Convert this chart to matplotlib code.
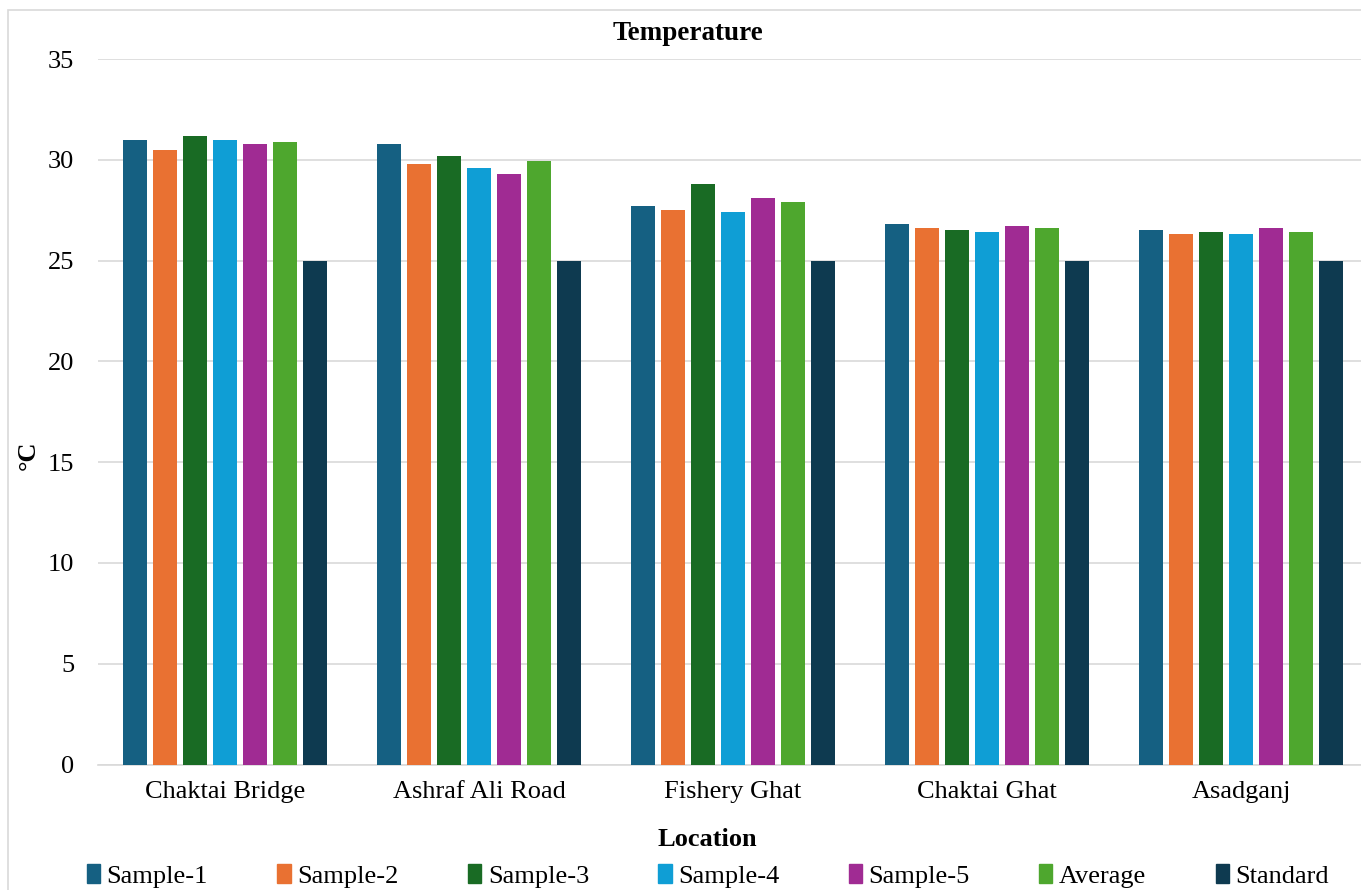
import numpy as np
import matplotlib
matplotlib.use('Agg')
import matplotlib.pyplot as plt
import matplotlib.patches as mpatches

# Temperature readings per sampling location (deg C)
locations = ['Chaktai Bridge', 'Ashraf Ali Road', 'Fishery Ghat', 'Chaktai Ghat', 'Asadganj']
sample1 = [31.0, 30.8, 27.7, 26.8, 26.5]
sample2 = [30.5, 29.8, 27.5, 26.6, 26.3]
sample3 = [31.2, 30.2, 28.8, 26.5, 26.4]
sample4 = [31.0, 29.6, 27.4, 26.4, 26.3]
sample5 = [30.8, 29.3, 28.1, 26.7, 26.6]
average = [30.9, 29.94, 27.9, 26.6, 26.42]
standard = [25, 25, 25, 25, 25]

series = [sample1, sample2, sample3, sample4, sample5, average, standard]
names = ['Sample-1', 'Sample-2', 'Sample-3', 'Sample-4', 'Sample-5', 'Average', 'Standard']
colors = ['#156082', '#E97132', '#196B24', '#0F9ED5', '#A02B93', '#4EA72E', '#0E3A50']

plt.rcParams['font.family'] = ['Liberation Serif', 'DejaVu Serif']
fsize = 19

fig = plt.figure(figsize=(13.61, 8.90), dpi=100)
ax = fig.add_axes([98 / 1361, 1 - 764.5 / 890, 1270 / 1361, 705.5 / 890])

x = np.arange(len(locations))
step = 0.118
width = 0.093
for i, (vals, name, c) in enumerate(zip(series, names, colors)):
    ax.bar(x + (i - 3) * step, vals, width, color=c, label=name, zorder=3)

ax.set_xlim(-0.5, len(locations) - 0.5)
ax.set_ylim(0, 35)
ax.set_yticks(np.arange(0, 36, 5))
ax.set_xticks(x)
ax.set_xticklabels(locations)
ax.tick_params(axis='both', length=0, labelsize=fsize, colors='#000000')
ax.tick_params(axis='x', pad=12)
ax.tick_params(axis='y', pad=17)
ax.grid(axis='y', color='#D9D9D9', linewidth=1.2, zorder=0)
for s in ['top', 'right', 'left']:
    ax.spines[s].set_visible(False)
ax.spines['bottom'].set_color('#D9D9D9')
ax.spines['bottom'].set_linewidth(1.2)

fig.text(688 / 1361, 1 - 33 / 890, 'Temperature', ha='center', va='center',
         fontsize=19.5, fontweight='bold')
fig.text(28 / 1361, 1 - 455 / 890, '\u00b0C', ha='center', va='center',
         rotation=90, fontsize=fsize, fontweight='bold')
fig.text(707 / 1361, 1 - 840 / 890, 'Location', ha='center', va='center',
         fontsize=fsize, fontweight='bold')

handles = [mpatches.Patch(color=c) for c in colors]
fig.legend(handles, names, loc='center', bbox_to_anchor=(708 / 1361, 1 - 876 / 890),
           ncol=7, frameon=False, fontsize=fsize, handlelength=0.5, handleheight=0.75,
           handletextpad=0.25, columnspacing=2.63, borderaxespad=0)

# light chart-area border
fig.patches.append(mpatches.Rectangle((8 / 1361, -0.05), 1.1, 1 - 10 / 890 + 0.05,
                                      transform=fig.transFigure, fill=False,
                                      edgecolor='#D9D9D9', linewidth=1.2))

plt.savefig('out.png', dpi=100)
plt.close()
